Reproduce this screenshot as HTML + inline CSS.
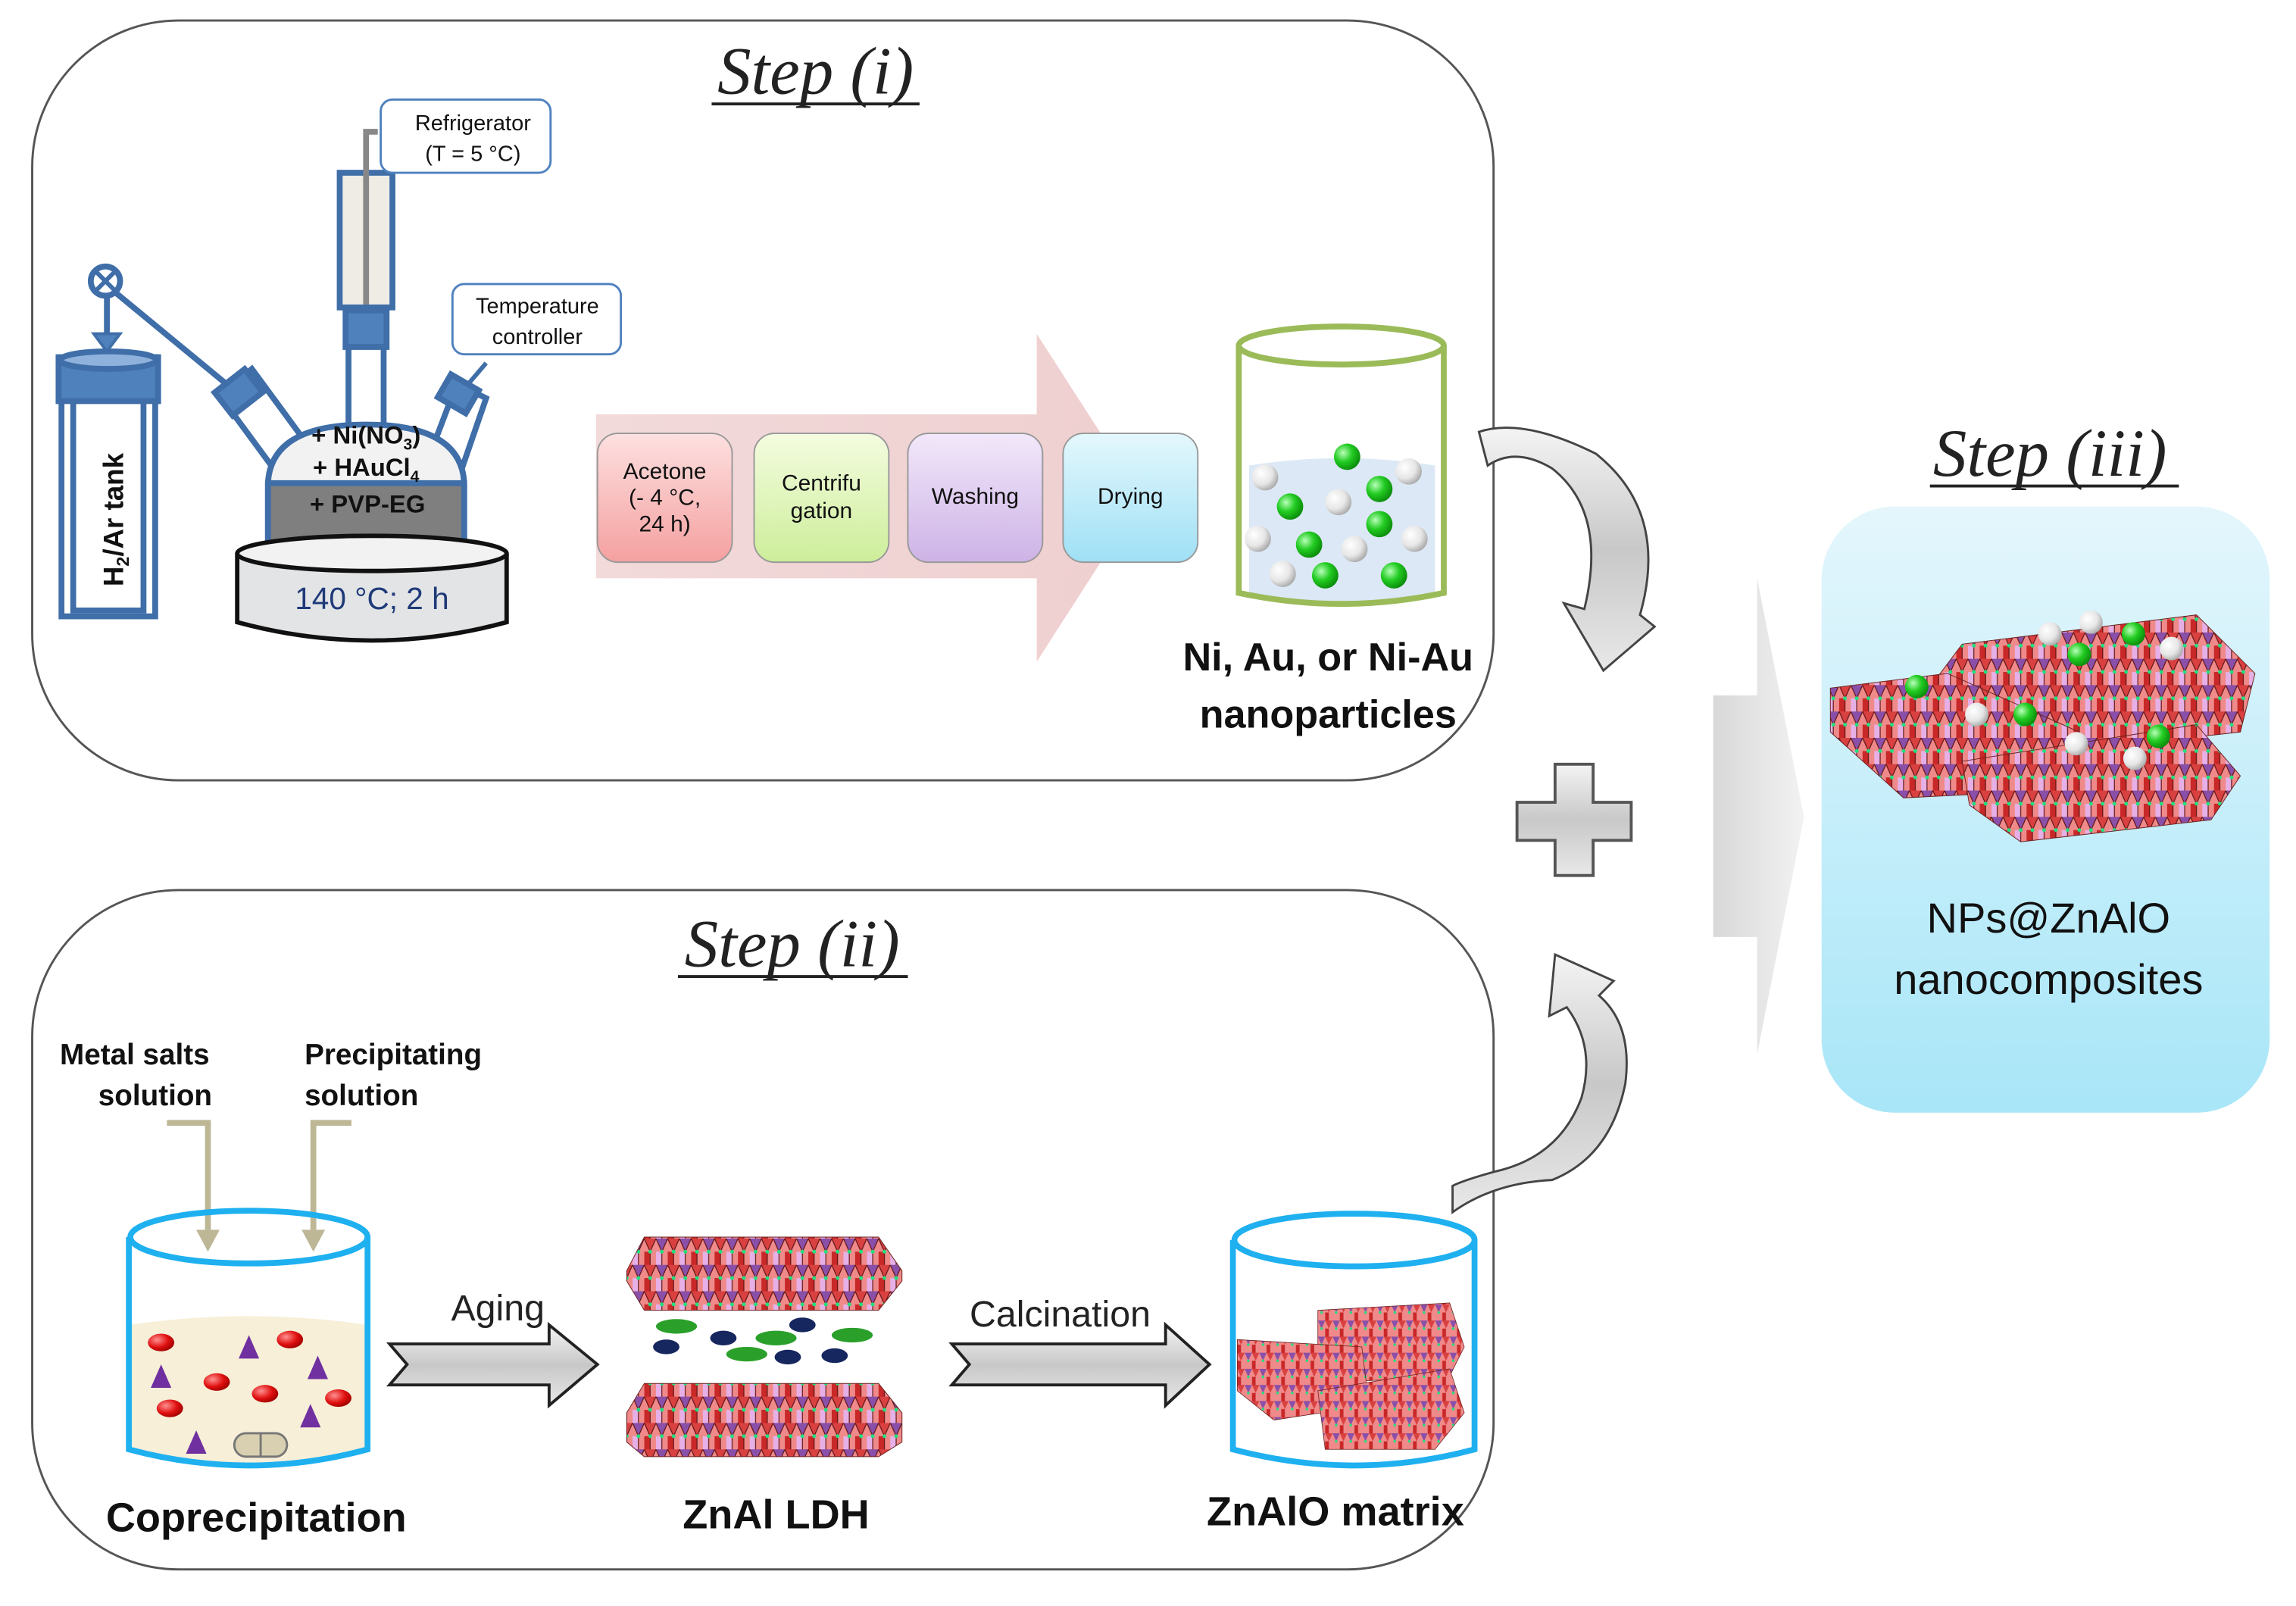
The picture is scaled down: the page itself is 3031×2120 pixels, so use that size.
<!DOCTYPE html>
<html><head><meta charset="utf-8"><style>
html,body{margin:0;padding:0;background:#fff;}
svg{display:block;}
text{font-family:"Liberation Sans",sans-serif;}
.cal{font-family:"Liberation Sans Narrow","Liberation Sans",sans-serif;}
.ser{font-family:"Liberation Serif",serif;font-style:italic;}
</style></head><body>
<svg width="3031" height="2120" viewBox="0 0 1568 1097" preserveAspectRatio="none" xmlns="http://www.w3.org/2000/svg">
<defs>
<linearGradient id="blue" x1="0" y1="0" x2="0" y2="1"><stop offset="0" stop-color="#e4f6fc"/><stop offset="1" stop-color="#a8e6f8"/></linearGradient>
<linearGradient id="gray" x1="0" y1="0" x2="0" y2="1"><stop offset="0" stop-color="#f4f4f4"/><stop offset="0.5" stop-color="#c8c8c8"/><stop offset="1" stop-color="#e8e8e8"/></linearGradient>
<linearGradient id="bigg" x1="0" y1="0" x2="1" y2="0"><stop offset="0" stop-color="#d8d8d8"/><stop offset="1" stop-color="#f2f2f2"/></linearGradient>
<linearGradient id="pinkarr" x1="0" y1="0" x2="1" y2="0"><stop offset="0" stop-color="#f2dada"/><stop offset="1" stop-color="#efcfd0"/></linearGradient>
<linearGradient id="b1" x1="0" y1="0" x2="0" y2="1"><stop offset="0" stop-color="#fde0e0"/><stop offset="1" stop-color="#f5a0a0"/></linearGradient>
<linearGradient id="b2" x1="0" y1="0" x2="0" y2="1"><stop offset="0" stop-color="#f4fce0"/><stop offset="1" stop-color="#cdee9a"/></linearGradient>
<linearGradient id="b3" x1="0" y1="0" x2="0" y2="1"><stop offset="0" stop-color="#f2e8fa"/><stop offset="1" stop-color="#cdb3e6"/></linearGradient>
<linearGradient id="b4" x1="0" y1="0" x2="0" y2="1"><stop offset="0" stop-color="#e4f8fd"/><stop offset="1" stop-color="#9fe0f5"/></linearGradient>
<radialGradient id="gs" cx="0.35" cy="0.35" r="0.7"><stop offset="0" stop-color="#b8ffb8"/><stop offset="0.5" stop-color="#22cc22"/><stop offset="1" stop-color="#0a8a0a"/></radialGradient>
<radialGradient id="ws" cx="0.35" cy="0.35" r="0.7"><stop offset="0" stop-color="#ffffff"/><stop offset="0.6" stop-color="#e6e6e6"/><stop offset="1" stop-color="#a8a8a8"/></radialGradient>
<radialGradient id="rs" cx="0.35" cy="0.35" r="0.7"><stop offset="0" stop-color="#ff9090"/><stop offset="0.6" stop-color="#e01010"/><stop offset="1" stop-color="#a00000"/></radialGradient>
<pattern id="oct" width="16" height="18" patternUnits="userSpaceOnUse">
<rect width="16" height="18" fill="#f08a8a"/>
<polygon points="0,0 8,0 4,9" fill="#8a4fa8"/>
<polygon points="8,0 16,0 12,9" fill="#d94040"/>
<polygon points="0,9 4,9 4,18 0,18" fill="#e6b0e6"/>
<polygon points="8,9 12,9 12,18 8,18" fill="#c82828"/>
<polyline points="0,0 4,9 8,0 12,9 16,0" fill="none" stroke="#5a1010" stroke-width="0.6"/>
<line x1="4" y1="9" x2="4" y2="18" stroke="#5a1010" stroke-width="0.6"/>
<line x1="12" y1="9" x2="12" y2="18" stroke="#5a1010" stroke-width="0.6"/>
<circle cx="4" cy="9" r="1.3" fill="#20e080"/><circle cx="12" cy="9" r="1.3" fill="#20e080"/>
</pattern>
<pattern id="octs" width="10" height="11" patternUnits="userSpaceOnUse">
<rect width="10" height="11" fill="#f08a8a"/>
<polygon points="0,0 5,0 2.5,5.5" fill="#8a4fa8"/>
<polygon points="5,0 10,0 7.5,5.5" fill="#d94040"/>
<polygon points="5,5.5 7.5,5.5 7.5,11 5,11" fill="#c82828"/>
<circle cx="2.5" cy="5.5" r="0.9" fill="#20e080"/>
</pattern>
</defs>

<!-- Step i box -->
<rect x="22" y="14" width="998" height="519" rx="100" fill="#fff" stroke="#555" stroke-width="1.5"/>
<text x="557" y="64" class="ser" font-size="46" text-anchor="middle" fill="#222">Step (i)</text>
<line x1="486" y1="71" x2="628" y2="71" stroke="#222" stroke-width="2"/>

<!-- Step ii box -->
<rect x="22" y="608" width="998" height="464" rx="100" fill="#fff" stroke="#555" stroke-width="1.5"/>
<text x="541" y="660" class="ser" font-size="46" text-anchor="middle" fill="#222">Step (ii)</text>
<line x1="463" y1="667" x2="620" y2="667" stroke="#222" stroke-width="2"/>

<!-- apparatus -->
<g stroke="#3f6ea8" stroke-width="4" fill="#fff">
<rect x="42" y="244" width="64" height="177" />
<rect x="50" y="262" width="48" height="155" />
<rect x="40" y="244" width="68" height="30" fill="#4f81bd"/>
<ellipse cx="74" cy="246" rx="33" ry="6" fill="#8fb2dd"/>
<line x1="73" y1="195" x2="73" y2="240"/>
<line x1="73" y1="195" x2="170" y2="275"/>
<circle cx="72" cy="192" r="10" fill="#fff"/>
<line x1="66" y1="186" x2="78" y2="198" stroke-width="3"/><line x1="78" y1="186" x2="66" y2="198" stroke-width="3"/>
<polygon points="64,228 82,228 73,240" fill="#4f81bd" stroke-width="2"/>
<!-- left neck -->
<polygon points="150,270 172,252 222,320 200,338"/>
<rect x="150" y="258" width="26" height="20" transform="rotate(-38 163 268)" fill="#4f81bd"/>
<!-- right neck -->
<polygon points="290,320 312,262 332,272 312,330"/>
<rect x="302" y="260" width="22" height="18" transform="rotate(30 313 269)" fill="#4f81bd"/>
<line x1="320" y1="262" x2="332" y2="248" stroke-width="3"/>
<!-- center column -->
<rect x="232" y="118" width="36" height="92" fill="#eeece4"/>
<rect x="236" y="212" width="28" height="25" fill="#4f81bd"/>
<rect x="238" y="237" width="24" height="70"/>
<!-- flask -->
<path d="M183,330 Q185,290 250,290 Q315,290 317,330 L317,370 Q250,380 183,370 Z" fill="#f2f2f2"/>
<path d="M183,330 L317,330 L317,370 Q250,382 183,370 Z" fill="#7f7f7f"/>
</g>
<polyline points="250,208 250,90 258,90" fill="none" stroke="#888" stroke-width="4"/>
<text x="250" y="303" font-size="17" font-weight="bold" text-anchor="middle" fill="#111">+ Ni(NO<tspan font-size="11" dy="4">3</tspan><tspan dy="-4">)</tspan></text>
<text x="250" y="325" font-size="17" font-weight="bold" text-anchor="middle" fill="#111">+ HAuCl<tspan font-size="11" dy="4">4</tspan></text>
<text x="251" y="350" font-size="17" font-weight="bold" text-anchor="middle" fill="#111">+ PVP-EG</text>
<!-- heater -->
<path d="M162,378 L162,425 Q254,450 346,425 L346,378" fill="#e2e4e6" stroke="#111" stroke-width="3"/>
<ellipse cx="254" cy="378" rx="92" ry="12" fill="#f2f2f2" stroke="#111" stroke-width="3"/>
<text x="254" y="416" font-size="21" text-anchor="middle" fill="#1f3a78">140 °C; 2 h</text>
<text transform="translate(84,355) rotate(-90)" font-size="19" font-weight="bold" text-anchor="middle" fill="#111">H<tspan font-size="12" dy="4">2</tspan><tspan dy="-4">/Ar tank</tspan></text>
<!-- callouts -->
<rect x="260" y="68" width="116" height="50" rx="8" fill="#fff" stroke="#4f81bd" stroke-width="1.5"/>
<text x="323" y="89" font-size="15" text-anchor="middle" fill="#111">Refrigerator</text>
<text x="323" y="110" font-size="15" text-anchor="middle" fill="#111">(T = 5 °C)</text>
<rect x="309" y="194" width="115" height="48" rx="8" fill="#fff" stroke="#4f81bd" stroke-width="1.5"/>
<text x="367" y="214" font-size="15" text-anchor="middle" fill="#111">Temperature</text>
<text x="367" y="235" font-size="15" text-anchor="middle" fill="#111">controller</text>

<!-- pink arrow -->
<polygon points="407,283 708,283 708,228 780,340 708,452 708,395 407,395" fill="url(#pinkarr)"/>
<g font-size="15.5" text-anchor="middle" fill="#111" stroke="#999" stroke-width="1">
<rect x="408" y="296" width="92" height="88" rx="14" fill="url(#b1)"/>
<rect x="515" y="296" width="92" height="88" rx="14" fill="url(#b2)"/>
<rect x="620" y="296" width="92" height="88" rx="14" fill="url(#b3)"/>
<rect x="726" y="296" width="92" height="88" rx="14" fill="url(#b4)"/>
</g>
<g font-size="15.5" text-anchor="middle" fill="#111">
<text x="454" y="327">Acetone</text><text x="454" y="345">(- 4 °C,</text><text x="454" y="363">24 h)</text>
<text x="561" y="335">Centrifu</text><text x="561" y="354">gation</text>
<text x="666" y="344">Washing</text>
<text x="772" y="344">Drying</text>
</g>

<!-- green beaker -->
<path d="M853,318 Q916,308 980,318 L980,405 Q916,418 853,405 Z" fill="#dce8f6"/>
<path d="M846,236 L846,405 Q916,420 986,405 L986,236" fill="none" stroke="#9bbb59" stroke-width="4"/>
<ellipse cx="916" cy="236" rx="70" ry="13" fill="none" stroke="#9bbb59" stroke-width="4"/>
<g>
<circle cx="920" cy="312" r="9" fill="url(#gs)"/><circle cx="864" cy="326" r="9" fill="url(#ws)"/><circle cx="962" cy="322" r="9" fill="url(#ws)"/>
<circle cx="942" cy="334" r="9" fill="url(#gs)"/><circle cx="914" cy="343" r="9" fill="url(#ws)"/><circle cx="881" cy="346" r="9" fill="url(#gs)"/>
<circle cx="942" cy="358" r="9" fill="url(#gs)"/><circle cx="859" cy="368" r="9" fill="url(#ws)"/><circle cx="966" cy="368" r="9" fill="url(#ws)"/>
<circle cx="894" cy="372" r="9" fill="url(#gs)"/><circle cx="925" cy="375" r="9" fill="url(#ws)"/><circle cx="876" cy="392" r="9" fill="url(#ws)"/>
<circle cx="905" cy="393" r="9" fill="url(#gs)"/><circle cx="952" cy="393" r="9" fill="url(#gs)"/>
</g>
<text x="907" y="458" class="cal" font-size="27" font-weight="bold" text-anchor="middle" fill="#111">Ni, Au, or Ni-Au</text>
<text x="907" y="497" class="cal" font-size="27" font-weight="bold" text-anchor="middle" fill="#111">nanoparticles</text>

<!-- curved arrows -->
<path d="M1010,295 Q1040,285 1090,310 Q1140,350 1120,420 L1130,428 L1095,458 L1068,412 L1082,416 Q1098,350 1060,320 Q1035,305 1016,318 Z" fill="url(#gray)" stroke="#444" stroke-width="1.5"/>
<path d="M992,828 Q1020,808 1060,806 Q1100,790 1110,740 Q1115,700 1092,680 L1102,670 L1062,652 L1058,694 L1070,688 Q1090,715 1080,750 Q1065,790 1022,800 Q1000,806 992,810 Z" fill="url(#gray)" stroke="#444" stroke-width="1.5"/>

<!-- plus -->
<path d="M1062,522 L1088,522 L1088,548 L1114,548 L1114,574 L1088,574 L1088,598 L1062,598 L1062,574 L1036,574 L1036,548 L1062,548 Z" fill="url(#gray)" stroke="#555" stroke-width="2"/>

<!-- big gray arrow -->
<polygon points="1170,475 1200,475 1200,395 1232,558 1200,720 1200,640 1170,640" fill="url(#bigg)"/>

<!-- step iii -->
<text x="1400" y="325" class="ser" font-size="46" text-anchor="middle" fill="#222">Step (iii)</text>
<line x1="1318" y1="332" x2="1488" y2="332" stroke="#222" stroke-width="2"/>
<rect x="1244" y="346" width="306" height="414" rx="50" fill="url(#blue)"/>
<g stroke="#6a2020" stroke-width="0.5">
<polygon points="1340,440 1500,420 1540,460 1530,500 1350,520 1310,480" fill="url(#oct)"/>
<polygon points="1250,470 1330,460 1420,500 1400,540 1300,545 1250,500" fill="url(#oct)"/>
<polygon points="1340,520 1500,495 1530,530 1510,560 1380,575 1345,550" fill="url(#oct)"/>
</g>
<circle cx="1428" cy="425" r="8" fill="url(#ws)"/><circle cx="1457" cy="433" r="8" fill="url(#gs)"/><circle cx="1400" cy="433" r="8" fill="url(#ws)"/>
<circle cx="1420" cy="447" r="8" fill="url(#gs)"/><circle cx="1483" cy="443" r="8" fill="url(#ws)"/><circle cx="1309" cy="469" r="8" fill="url(#gs)"/>
<circle cx="1350" cy="488" r="8" fill="url(#ws)"/><circle cx="1383" cy="488" r="8" fill="url(#gs)"/><circle cx="1418" cy="508" r="8" fill="url(#ws)"/>
<circle cx="1474" cy="503" r="8" fill="url(#gs)"/><circle cx="1458" cy="518" r="8" fill="url(#ws)"/>
<text x="1399" y="637" class="cal" font-size="29" text-anchor="middle" fill="#111">NPs@ZnAlO</text>
<text x="1399" y="679" class="cal" font-size="29" text-anchor="middle" fill="#111">nanocomposites</text>

<!-- step ii content -->
<g class="cal" font-size="20" font-weight="bold" fill="#111">
<text x="92" y="727" text-anchor="middle">Metal salts</text>
<text x="106" y="755" text-anchor="middle">solution</text>
<text x="208" y="727">Precipitating</text>
<text x="208" y="755">solution</text>
</g>
<g stroke="#bdb796" stroke-width="4" fill="none">
<polyline points="114,767 142,767 142,840"/>
<polyline points="240,767 214,767 214,840"/>
</g>
<polygon points="134,840 150,840 142,855" fill="#bdb796"/>
<polygon points="206,840 222,840 214,855" fill="#bdb796"/>
<!-- beaker 1 -->
<path d="M88,905 Q170,893 251,905 L251,990 Q170,1012 88,990 Z" fill="#f7efd8"/>
<path d="M88,845 L88,990 Q170,1012 251,990 L251,845" fill="none" stroke="#1fb0f0" stroke-width="4"/>
<ellipse cx="170" cy="845" rx="81" ry="18" fill="none" stroke="#1fb0f0" stroke-width="4"/>
<g fill="#7030a0">
<polygon points="163,928 170,912 177,928"/><polygon points="103,948 110,932 117,948"/><polygon points="210,942 217,926 224,942"/>
<polygon points="205,975 212,959 219,975"/><polygon points="127,993 134,977 141,993"/>
</g>
<g fill="url(#rs)">
<ellipse cx="110" cy="917" rx="9" ry="6"/><ellipse cx="198" cy="915" rx="9" ry="6"/><ellipse cx="148" cy="944" rx="9" ry="6"/>
<ellipse cx="181" cy="952" rx="9" ry="6"/><ellipse cx="231" cy="955" rx="9" ry="6"/><ellipse cx="116" cy="962" rx="9" ry="6"/>
</g>
<rect x="160" y="979" width="36" height="16" rx="8" fill="#d8d0b0" stroke="#777" stroke-width="1.5"/>
<line x1="178" y1="979" x2="178" y2="995" stroke="#777" stroke-width="1.5"/>
<text x="175" y="1046" class="cal" font-size="28" font-weight="bold" text-anchor="middle" fill="#111">Coprecipitation</text>

<!-- aging arrow -->
<text x="340" y="902" class="cal" font-size="25" text-anchor="middle" fill="#222">Aging</text>
<polygon points="266,918 375,918 375,905 408,932 375,960 375,946 266,946 278,932" fill="url(#gray)" stroke="#222" stroke-width="2"/>
<!-- LDH -->
<g stroke="#6a2020" stroke-width="0.5">
<polygon points="440,845 600,845 616,868 616,875 600,895 440,895 428,875 428,868" fill="url(#oct)"/>
<polygon points="440,945 600,945 616,965 616,985 600,995 440,995 428,985 428,965" fill="url(#oct)"/>
</g>
<g>
<ellipse cx="462" cy="906" rx="14" ry="5" fill="#2aa02a"/><ellipse cx="530" cy="914" rx="14" ry="5" fill="#2aa02a"/><ellipse cx="582" cy="912" rx="14" ry="5" fill="#2aa02a"/><ellipse cx="510" cy="925" rx="14" ry="5" fill="#2aa02a"/>
<ellipse cx="494" cy="914" rx="9" ry="5" fill="#16265e"/><ellipse cx="548" cy="905" rx="9" ry="5" fill="#16265e"/><ellipse cx="455" cy="920" rx="9" ry="5" fill="#16265e"/><ellipse cx="538" cy="927" rx="9" ry="5" fill="#16265e"/><ellipse cx="570" cy="926" rx="9" ry="5" fill="#16265e"/>
</g>
<text x="530" y="1044" class="cal" font-size="28" font-weight="bold" text-anchor="middle" fill="#111">ZnAl LDH</text>

<!-- calcination arrow -->
<text x="724" y="906" class="cal" font-size="25" text-anchor="middle" fill="#222">Calcination</text>
<polygon points="650,918 796,918 796,905 826,932 796,960 796,946 650,946 662,932" fill="url(#gray)" stroke="#222" stroke-width="2"/>
<!-- beaker 3 -->
<path d="M842,847 L842,990 Q925,1012 1007,990 L1007,847" fill="none" stroke="#1fb0f0" stroke-width="4"/>
<ellipse cx="925" cy="847" rx="82" ry="18" fill="none" stroke="#1fb0f0" stroke-width="4"/>
<g stroke="#6a2020" stroke-width="0.4">
<polygon points="900,895 990,890 1000,920 990,940 900,945" fill="url(#octs)"/>
<polygon points="845,915 930,920 935,960 870,970 845,950" fill="url(#octs)"/>
<polygon points="900,950 990,935 1000,965 980,990 905,990" fill="url(#octs)"/>
</g>
<text x="912" y="1042" class="cal" font-size="28" font-weight="bold" text-anchor="middle" fill="#111">ZnAlO matrix</text>
</svg>
</body></html>
